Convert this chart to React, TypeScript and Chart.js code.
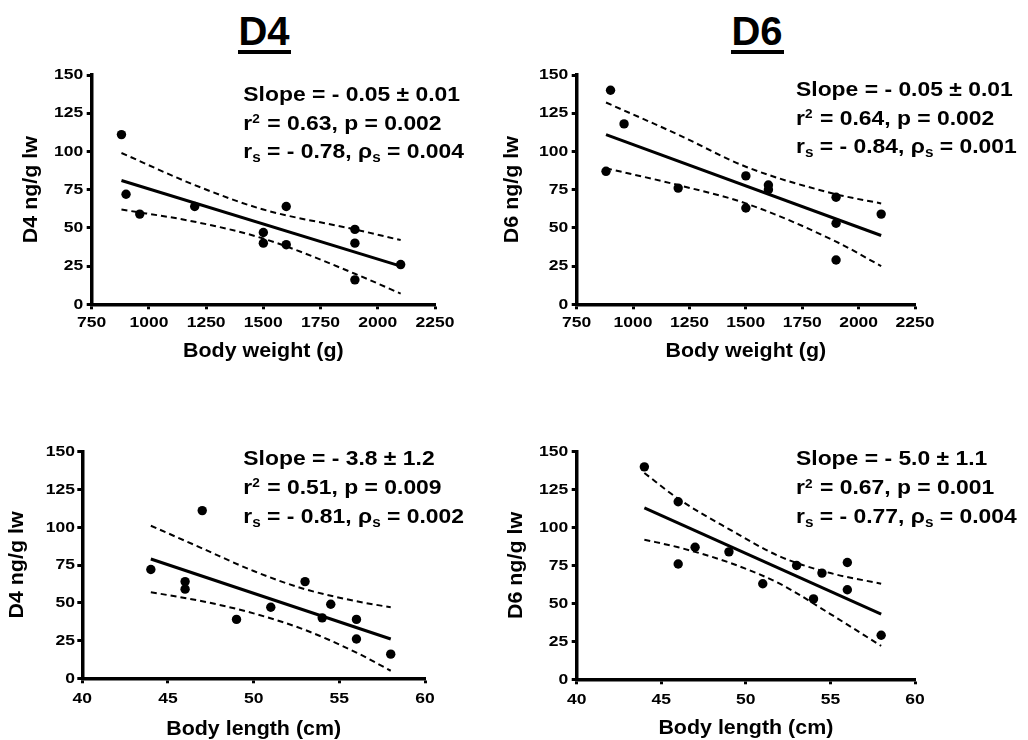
import React, { useEffect, useRef } from "react";
import { Chart, registerables } from "chart.js";

Chart.register(...registerables);

const FONT = "'Liberation Sans', Arial, Helvetica, sans-serif";

// ---- axis ticks ----
const weightTicks = [750, 1000, 1250, 1500, 1750, 2000, 2250];
const lengthTicks = [40, 45, 50, 55, 60];
const concTicks = [0, 25, 50, 75, 100, 125, 150];

// ---- D4 vs body weight ----
const d4WeightX = [880, 900, 960, 1200, 1500, 1500, 1600, 1600, 1900, 1900, 1900, 2100];
const d4WeightY = [111, 72, 59, 64, 47, 40, 64, 39, 49, 40, 16, 26];
const d4WeightFitX = [880, 2100];
const d4WeightFitY = [81, 25];
const d4WeightBandX = [880, 1200, 1500, 1900, 2100];
const d4WeightUpper = [99, 78, 62, 49, 42];
const d4WeightLower = [62, 54, 43, 20, 7];

// ---- D6 vs body weight ----
const d6WeightX = [880, 900, 960, 1200, 1500, 1500, 1600, 1600, 1900, 1900, 1900, 2100];
const d6WeightY = [87, 140, 118, 76, 84, 63, 78, 75, 70, 53, 29, 59];
const d6WeightFitX = [880, 2100];
const d6WeightFitY = [111, 45];
const d6WeightBandX = [880, 1200, 1500, 1900, 2100];
const d6WeightUpper = [132, 111, 90, 72, 66];
const d6WeightLower = [89, 78, 66, 41, 25];

// ---- D4 vs body length ----
const d4LengthX = [44, 46, 46, 47, 49, 51, 53, 54, 54.5, 56, 56, 58];
const d4LengthY = [72, 64, 59, 111, 39, 47, 64, 40, 49, 39, 26, 16];
const d4LengthFitX = [44, 58];
const d4LengthFitY = [79, 26];
const d4LengthBandX = [44, 47, 50, 53, 56, 58];
const d4LengthUpper = [101, 86, 71, 59, 51, 47];
const d4LengthLower = [57, 51, 43, 32, 17, 5];

// ---- D6 vs body length ----
const d6LengthX = [44, 46, 46, 47, 49, 51, 53, 54, 54.5, 56, 56, 58];
const d6LengthY = [140, 117, 76, 87, 84, 63, 75, 53, 70, 77, 59, 29];
const d6LengthFitX = [44, 58];
const d6LengthFitY = [113, 43];
const d6LengthBandX = [44, 46, 49, 52, 55, 58];
const d6LengthUpper = [136, 119, 99, 81, 70, 63];
const d6LengthLower = [92, 87, 77, 63, 43, 22];

type Seg = { t: string; sub?: boolean; sup?: boolean };

const d4WeightStats: Seg[][] = [
  [{ t: "Slope = - 0.05 ± 0.01" }],
  [{ t: "r" }, { t: "2", sup: true }, { t: " = 0.63, p = 0.002" }],
  [{ t: "r" }, { t: "s", sub: true }, { t: " = - 0.78, ρ" }, { t: "s", sub: true }, { t: " = 0.004" }],
];
const d6WeightStats: Seg[][] = [
  [{ t: "Slope = - 0.05 ± 0.01" }],
  [{ t: "r" }, { t: "2", sup: true }, { t: " = 0.64, p = 0.002" }],
  [{ t: "r" }, { t: "s", sub: true }, { t: " = - 0.84, ρ" }, { t: "s", sub: true }, { t: " = 0.001" }],
];
const d4LengthStats: Seg[][] = [
  [{ t: "Slope = - 3.8 ± 1.2" }],
  [{ t: "r" }, { t: "2", sup: true }, { t: " = 0.51, p = 0.009" }],
  [{ t: "r" }, { t: "s", sub: true }, { t: " = - 0.81, ρ" }, { t: "s", sub: true }, { t: " = 0.002" }],
];
const d6LengthStats: Seg[][] = [
  [{ t: "Slope = - 5.0 ± 1.1" }],
  [{ t: "r" }, { t: "2", sup: true }, { t: " = 0.67, p = 0.001" }],
  [{ t: "r" }, { t: "s", sub: true }, { t: " = - 0.77, ρ" }, { t: "s", sub: true }, { t: " = 0.004" }],
];

const STRETCH_TICK = 1.13;
const STRETCH_TITLE = 1.02;
const STRETCH_STATS = 1.09;

function stretchText(ctx: CanvasRenderingContext2D) {
  const anyCtx = ctx as any;
  if (anyCtx.__rawFillText) return;
  const raw = ctx.fillText.bind(ctx);
  anyCtx.__rawFillText = raw;
  (ctx as any).fillText = (text: string, x: number, y: number, maxWidth?: number) => {
    const m = /([\d.]+)px/.exec(ctx.font);
    const size = m ? parseFloat(m[1]) : 12;
    const sx = size < 18 ? STRETCH_TICK : STRETCH_TITLE;
    ctx.save();
    ctx.translate(x, y);
    ctx.scale(sx, 1);
    if (maxWidth === undefined || maxWidth === null) raw(text, 0, 0);
    else raw(text, 0, 0, maxWidth / sx);
    ctx.restore();
  };
}

interface PanelCfg {
  left: number; top: number; width: number; height: number;
  padTop: number; padRight: number; yWidth: number; xHeight: number;
  yTitle: string; yTitlePad: number; yTickPad: number;
  xTitle: string; xTitlePad: number; xTickPad: number;
  xTicks: number[];
  px: number[]; py: number[];
  fitX: number[]; fitY: number[];
  bandX: number[]; upper: number[]; lower: number[];
  stats: Seg[][]; statsX: number; statsY: number; statsGap: number;
}

const panels: PanelCfg[] = [
  {
    left: 0, top: 40, width: 480, height: 340, padTop: 35, padRight: 45, yWidth: 91.7, xHeight: 75.7,
    yTitle: "D4 ng/g lw", yTitlePad: 18.2, yTickPad: 3.4, xTitle: "Body weight (g)", xTitlePad: 15.9, xTickPad: 4.4,
    xTicks: weightTicks, px: d4WeightX, py: d4WeightY, fitX: d4WeightFitX, fitY: d4WeightFitY,
    bandX: d4WeightBandX, upper: d4WeightUpper, lower: d4WeightLower,
    stats: d4WeightStats, statsX: 243.3, statsY: 60.7, statsGap: 28.8,
  },
  {
    left: 490, top: 40, width: 538, height: 340, padTop: 35, padRight: 113, yWidth: 86.7, xHeight: 75.7,
    yTitle: "D6 ng/g lw", yTitlePad: 9.9, yTickPad: 3.4, xTitle: "Body weight (g)", xTitlePad: 15.9, xTickPad: 4.4,
    xTicks: weightTicks, px: d6WeightX, py: d6WeightY, fitX: d6WeightFitX, fitY: d6WeightFitY,
    bandX: d6WeightBandX, upper: d6WeightUpper, lower: d6WeightLower,
    stats: d6WeightStats, statsX: 306, statsY: 56, statsGap: 28.7,
  },
  {
    left: 0, top: 410, width: 480, height: 340, padTop: 41.7, padRight: 55, yWidth: 82.3, xHeight: 71.7,
    yTitle: "D4 ng/g lw", yTitlePad: 4.9, yTickPad: 2.3, xTitle: "Body length (cm)", xTitlePad: 8.2, xTickPad: 6.6,
    xTicks: lengthTicks, px: d4LengthX, py: d4LengthY, fitX: d4LengthFitX, fitY: d4LengthFitY,
    bandX: d4LengthBandX, upper: d4LengthUpper, lower: d4LengthLower,
    stats: d4LengthStats, statsX: 243.3, statsY: 55, statsGap: 28.9,
  },
  {
    left: 490, top: 410, width: 538, height: 340, padTop: 41.7, padRight: 113, yWidth: 86.7, xHeight: 70.7,
    yTitle: "D6 ng/g lw", yTitlePad: 13.2, yTickPad: 3.4, xTitle: "Body length (cm)", xTitlePad: 9.2, xTickPad: 5.9,
    xTicks: lengthTicks, px: d6LengthX, py: d6LengthY, fitX: d6LengthFitX, fitY: d6LengthFitY,
    bandX: d6LengthBandX, upper: d6LengthUpper, lower: d6LengthLower,
    stats: d6LengthStats, statsX: 306, statsY: 55, statsGap: 29,
  },
];

function pairs(xs: number[], ys: number[]) {
  return xs.map((x, i) => ({ x, y: ys[i] }));
}

function makeStatsPlugin(p: PanelCfg) {
  return {
    id: "statsText",
    afterDraw(chart: any) {
      const ctx: CanvasRenderingContext2D = chart.ctx;
      const raw = (ctx as any).__rawFillText || ctx.fillText.bind(ctx);
      ctx.save();
      ctx.fillStyle = "#000";
      ctx.textAlign = "left";
      ctx.textBaseline = "alphabetic";
      p.stats.forEach((line, i) => {
        ctx.save();
        ctx.translate(p.statsX, p.statsY + i * p.statsGap);
        ctx.scale(STRETCH_STATS, 1);
        let cx = 0;
        for (const seg of line) {
          const size = seg.sup ? 12.5 : seg.sub ? 14 : 21;
          ctx.font = `bold ${size}px ${FONT}`;
          const dy = seg.sup ? -6.5 : seg.sub ? 4 : 0;
          raw(seg.t, cx, dy);
          cx += ctx.measureText(seg.t).width + (seg.sup ? 1 : 0);
        }
        ctx.restore();
      });
      ctx.restore();
    },
  };
}

function Panel({ p }: { p: PanelCfg }) {
  const ref = useRef<HTMLCanvasElement | null>(null);
  useEffect(() => {
    const canvas = ref.current!;
    const ctx = canvas.getContext("2d")!;
    stretchText(ctx);
    const tickFont = { family: FONT, size: 15.5, weight: "bold" as const };
    const titleFont = { family: FONT, size: 21, weight: "bold" as const };
    const chart = new Chart(canvas, {
      type: "scatter",
      data: {
        datasets: [
          {
            data: pairs(p.px, p.py),
            pointRadius: 4.7,
            pointHoverRadius: 4.7,
            backgroundColor: "#000",
            borderColor: "#000",
            borderWidth: 0,
            showLine: false,
          },
          {
            data: pairs(p.fitX, p.fitY),
            showLine: true,
            pointRadius: 0,
            borderColor: "#000",
            borderWidth: 3,
            fill: false,
          },
          {
            data: pairs(p.bandX, p.upper),
            showLine: true,
            pointRadius: 0,
            borderColor: "#000",
            borderWidth: 2,
            borderDash: [6, 4],
            cubicInterpolationMode: "monotone",
            fill: false,
          },
          {
            data: pairs(p.bandX, p.lower),
            showLine: true,
            pointRadius: 0,
            borderColor: "#000",
            borderWidth: 2,
            borderDash: [6, 4],
            cubicInterpolationMode: "monotone",
            fill: false,
          },
        ] as any,
      },
      options: {
        responsive: false,
        animation: false,
        events: [],
        layout: { padding: { top: p.padTop, right: p.padRight, left: 0, bottom: 0 } },
        plugins: { legend: { display: false }, tooltip: { enabled: false } },
        scales: {
          x: {
            type: "linear",
            position: "bottom",
            min: p.xTicks[0],
            max: p.xTicks[p.xTicks.length - 1],
            afterFit: (s: any) => { s.height = p.xHeight; },
            ticks: {
              stepSize: p.xTicks[1] - p.xTicks[0],
              autoSkip: false,
              maxRotation: 0,
              color: "#000",
              font: tickFont,
              padding: p.xTickPad,
              callback: (v: any) => String(v),
            },
            grid: { drawOnChartArea: false, drawTicks: true, tickLength: 5, tickWidth: 3, tickColor: "#000", color: "#000" },
            border: { display: true, color: "#000", width: 3.5 },
            title: { display: true, text: p.xTitle, color: "#000", font: titleFont, padding: { top: 0, bottom: p.xTitlePad } },
          },
          y: {
            type: "linear",
            position: "left",
            min: concTicks[0],
            max: concTicks[concTicks.length - 1],
            afterFit: (s: any) => { s.width = p.yWidth; },
            ticks: {
              stepSize: concTicks[1] - concTicks[0],
              autoSkip: false,
              color: "#000",
              font: tickFont,
              padding: p.yTickPad,
              callback: (v: any) => String(v),
            },
            grid: { drawOnChartArea: false, drawTicks: true, tickLength: 5, tickWidth: 3, tickColor: "#000", color: "#000" },
            border: { display: true, color: "#000", width: 3.5 },
            title: { display: true, text: p.yTitle, color: "#000", font: titleFont, padding: { top: p.yTitlePad, bottom: 0 } },
          },
        },
      } as any,
      plugins: [makeStatsPlugin(p)],
    });
    return () => chart.destroy();
  }, [p]);
  return (
    <canvas
      ref={ref}
      width={p.width}
      height={p.height}
      style={{ position: "absolute", left: p.left, top: p.top, width: p.width, height: p.height }}
    />
  );
}

function Heading({ text, center }: { text: string; center: number }) {
  return (
    <>
      <div
        style={{
          position: "absolute",
          left: center - 60,
          width: 120,
          top: 11,
          textAlign: "center",
          fontFamily: FONT,
          fontWeight: "bold",
          fontSize: 40,
          lineHeight: "40px",
          color: "#000",
        }}
      >
        {text}
      </div>
      <div style={{ position: "absolute", left: center - 26.5, width: 53, top: 50, height: 4, background: "#000" }} />
    </>
  );
}

export default function App() {
  return (
    <div style={{ position: "fixed", left: 0, top: 0, width: 1028, height: 740, overflow: "hidden", background: "#fff" }}>
      <Heading text="D4" center={264} />
      <Heading text="D6" center={757} />
      {panels.map((p, i) => (
        <Panel key={i} p={p} />
      ))}
    </div>
  );
}
